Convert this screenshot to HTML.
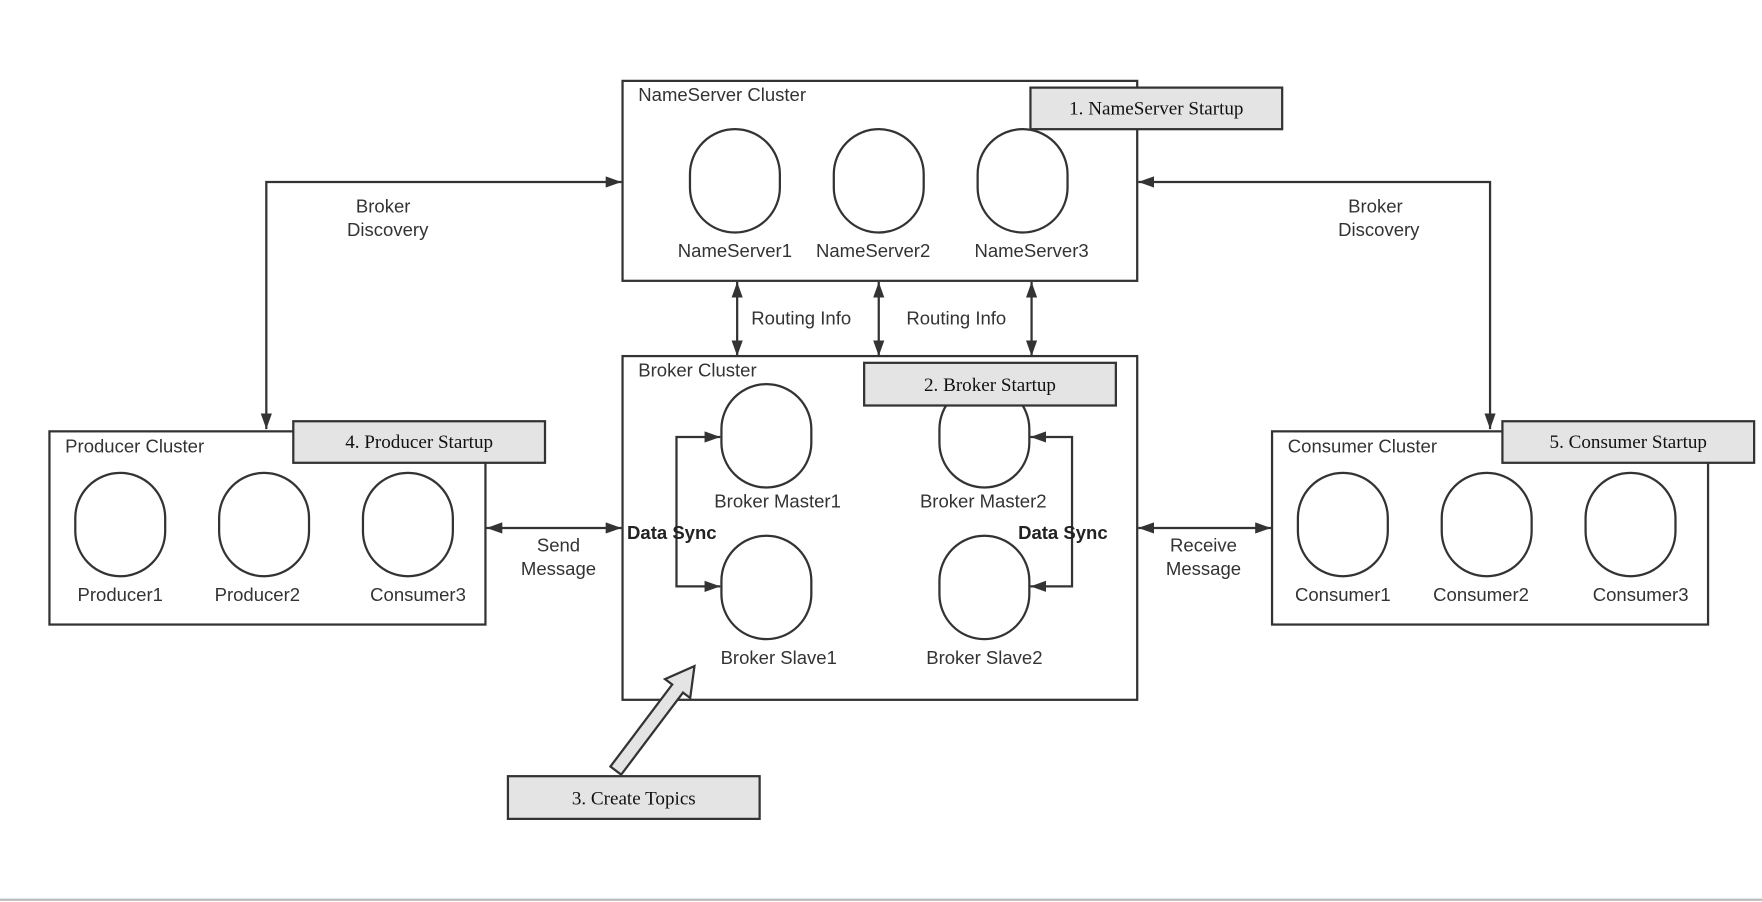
<!DOCTYPE html>
<html><head><meta charset="utf-8"><style>
html,body{margin:0;padding:0;background:#fff;}
svg{display:block;}
.t{font-family:"Liberation Sans",sans-serif;font-size:16.5px;fill:#333;}
.s{font-family:"Liberation Serif",serif;font-size:17px;fill:#111;}
.b{font-family:"Liberation Sans",sans-serif;font-size:16.5px;font-weight:bold;fill:#222;}
</style></head><body>
<svg width="1762" height="902" viewBox="0 0 1568 803" preserveAspectRatio="none" xmlns="http://www.w3.org/2000/svg">
<defs>
<marker id="ar" viewBox="0 0 14 10" refX="14" refY="5" markerWidth="14" markerHeight="10" orient="auto-start-reverse" markerUnits="userSpaceOnUse">
<path d="M0,0 L14,5 L0,10 z" fill="#333"/>
</marker>
</defs>
<rect width="1568" height="803" fill="#fff"/>
<g fill="none" stroke="#333" stroke-width="2">
<rect x="554" y="72" width="458" height="178"/>
<rect x="554" y="317" width="458" height="306"/>
<rect x="44" y="384" width="388" height="172"/>
<rect x="1132" y="384" width="388" height="172"/>
<rect x="614" y="115" width="80" height="92" rx="40" ry="40"/>
<rect x="742" y="115" width="80" height="92" rx="40" ry="40"/>
<rect x="870" y="115" width="80" height="92" rx="40" ry="40"/>
<rect x="642" y="342" width="80" height="92" rx="40" ry="40"/>
<rect x="836" y="342" width="80" height="92" rx="40" ry="40"/>
<rect x="642" y="477" width="80" height="92" rx="40" ry="40"/>
<rect x="836" y="477" width="80" height="92" rx="40" ry="40"/>
<rect x="67" y="421" width="80" height="92" rx="40" ry="40"/>
<rect x="195" y="421" width="80" height="92" rx="40" ry="40"/>
<rect x="323" y="421" width="80" height="92" rx="40" ry="40"/>
<rect x="1155" y="421" width="80" height="92" rx="40" ry="40"/>
<rect x="1283" y="421" width="80" height="92" rx="40" ry="40"/>
<rect x="1411" y="421" width="80" height="92" rx="40" ry="40"/>
<polyline points="237,382 237,162 553,162" marker-start="url(#ar)" marker-end="url(#ar)"/>
<polyline points="1013,162 1326,162 1326,382" marker-start="url(#ar)" marker-end="url(#ar)"/>
<line x1="656" y1="251" x2="656" y2="317" marker-start="url(#ar)" marker-end="url(#ar)"/>
<line x1="782" y1="251" x2="782" y2="317" marker-start="url(#ar)" marker-end="url(#ar)"/>
<line x1="918" y1="251" x2="918" y2="317" marker-start="url(#ar)" marker-end="url(#ar)"/>
<line x1="433" y1="470" x2="553" y2="470" marker-start="url(#ar)" marker-end="url(#ar)"/>
<line x1="1013" y1="470" x2="1131" y2="470" marker-start="url(#ar)" marker-end="url(#ar)"/>
<polyline points="641,389 602,389 602,522 641,522" marker-start="url(#ar)" marker-end="url(#ar)"/>
<polyline points="917,389 954,389 954,522 917,522" marker-start="url(#ar)" marker-end="url(#ar)"/>
</g>
<g fill="#e4e4e4" stroke="#333" stroke-width="2">
<rect x="917" y="78" width="224" height="37"/>
<rect x="769" y="323" width="224" height="38"/>
<rect x="261" y="375" width="224" height="37"/>
<rect x="1337" y="375" width="224" height="37"/>
<rect x="452" y="691" width="224" height="38"/>
<polygon points="552.8,689.6 607.8,616.6 614.2,621.4 618,593 591.8,604.6 598.2,609.4 543.2,682.4"/>
</g>
<line x1="0" y1="801" x2="1568" y2="801" stroke="#bbb" stroke-width="2"/>
<g class="t">
<text x="568" y="90">NameServer Cluster</text>
<text x="568" y="335">Broker Cluster</text>
<text x="58" y="403">Producer Cluster</text>
<text x="1146" y="403">Consumer Cluster</text>
<g text-anchor="middle">
<text x="654" y="229">NameServer1</text>
<text x="777" y="229">NameServer2</text>
<text x="918" y="229">NameServer3</text>
<text x="692" y="452">Broker Master1</text>
<text x="875" y="452">Broker Master2</text>
<text x="693" y="591">Broker Slave1</text>
<text x="876" y="591">Broker Slave2</text>
<text x="107" y="535">Producer1</text>
<text x="229" y="535">Producer2</text>
<text x="372" y="535">Consumer3</text>
<text x="1195" y="535">Consumer1</text>
<text x="1318" y="535">Consumer2</text>
<text x="1460" y="535">Consumer3</text>
<text x="341" y="189">Broker</text>
<text x="345" y="210">Discovery</text>
<text x="1224" y="189">Broker</text>
<text x="1227" y="210">Discovery</text>
<text x="713" y="289">Routing Info</text>
<text x="851" y="289">Routing Info</text>
<text x="497" y="491">Send</text>
<text x="497" y="512">Message</text>
<text x="1071" y="491">Receive</text>
<text x="1071" y="512">Message</text>
</g>
</g>
<text class="b" x="558" y="480">Data Sync</text>
<text class="b" x="906" y="480">Data Sync</text>
<g class="s" text-anchor="middle">
<text x="1029" y="102">1. NameServer Startup</text>
<text x="881" y="348">2. Broker Startup</text>
<text x="373" y="399">4. Producer Startup</text>
<text x="1449" y="399">5. Consumer Startup</text>
<text x="564" y="716">3. Create Topics</text>
</g>
</svg>
</body></html>
